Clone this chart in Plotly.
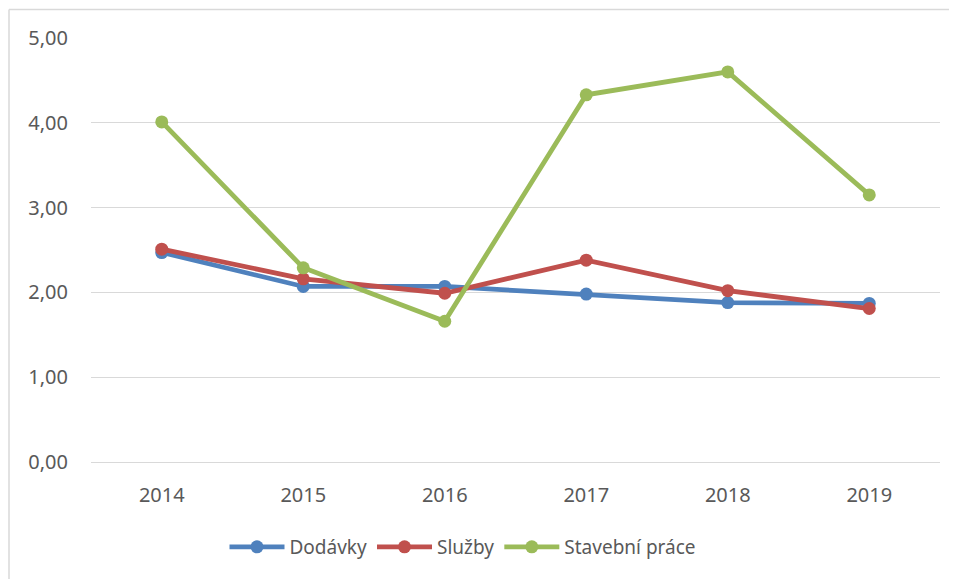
import plotly.graph_objects as go

years = ["2014", "2015", "2016", "2017", "2018", "2019"]
dodavky = [2.47, 2.07, 2.07, 1.98, 1.88, 1.87]
sluzby = [2.51, 2.16, 1.99, 2.38, 2.02, 1.81]
stavebni = [4.01, 2.29, 1.66, 4.33, 4.60, 3.15]
y_ticks = [0, 1, 2, 3, 4, 5]
y_tick_labels = ["0,00", "1,00", "2,00", "3,00", "4,00", "5,00"]

series = [
    ("Dodávky", dodavky, "#4F81BD"),
    ("Služby", sluzby, "#C0504D"),
    ("Stavební práce", stavebni, "#9BBB59"),
]

FONT = "Noto Sans"
# page body has an 8px margin, so the figure is offset by (8, 8)
W, H = 949, 571
ML, MR, MT, MB = 83, 17, 30, 117
PW, PH = W - ML - MR, H - MT - MB

fig = go.Figure()
for name, vals, col in series:
    fig.add_trace(go.Scatter(
        x=years, y=vals, name=name, mode="lines+markers",
        line=dict(color=col, width=4.8),
        marker=dict(color=col, size=13),
    ))

bx = (1 - ML) / PW          # left border at fig x=1
by = (H - MB - 1.5) / PH    # top border at fig y=1.5

fig.update_layout(
    width=W, height=H,
    margin=dict(l=ML, r=MR, t=MT, b=MB),
    paper_bgcolor="white", plot_bgcolor="white",
    font=dict(family=FONT, size=19, color="#595959"),
    showlegend=True,
    legend=dict(orientation="h", x=(463 - 8 - ML) / PW, xanchor="center",
                y=(454 - 539) / PH, yanchor="middle",
                font=dict(family=FONT, size=19, color="#595959"),
                itemwidth=55, tracegroupgap=0),
    xaxis=dict(type="category", range=[-0.5, 5.5], showgrid=False, showline=False,
               zeroline=False, ticks="", ticklabelstandoff=19,
               tickfont=dict(family=FONT, size=20, color="#595959")),
    yaxis=dict(range=[0, 5], tickvals=y_ticks, ticktext=y_tick_labels,
               showgrid=True, gridcolor="#D9D9D9", gridwidth=1,
               zeroline=True, zerolinecolor="#D9D9D9", zerolinewidth=1,
               showline=False, ticks="", ticklabelstandoff=22,
               tickfont=dict(family=FONT, size=20, color="#595959")),
    shapes=[
        dict(type="line", xref="paper", yref="paper",
             x0=bx, x1=(W + 5 - ML) / PW, y0=by, y1=by,
             line=dict(color="#D9D9D9", width=1.5)),
        dict(type="line", xref="paper", yref="paper",
             x0=bx, x1=bx, y0=by, y1=-(MB + 5) / PH,
             line=dict(color="#D9D9D9", width=1.5)),
    ],
)

fig.write_html("out.html")
